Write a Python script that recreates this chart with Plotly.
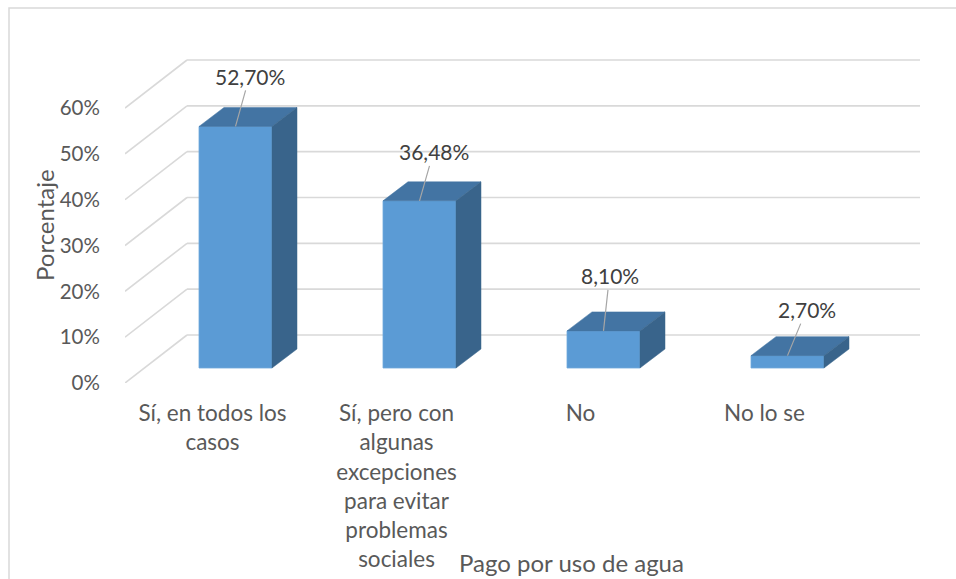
import plotly.graph_objects as go

# ---------------- data ----------------
categories = [
    "Sí, en todos los casos",
    "Sí, pero con algunas excepciones para evitar problemas sociales",
    "No",
    "No lo se",
]
tick_labels = [
    "Sí, en todos los<br>casos",
    "Sí, pero con<br>algunas<br>excepciones<br>para evitar<br>problemas<br>sociales",
    "No",
    "No lo se",
]
values = [52.70, 36.48, 8.10, 2.70]
value_labels = ["52,70%", "36,48%", "8,10%", "2,70%"]
y_ticks = [0, 10, 20, 30, 40, 50, 60]
y_tick_labels = ["0%", "10%", "20%", "30%", "40%", "50%", "60%"]

# ---------------- layout geometry (pixels) ----------------
W, H = 956, 579
L, R, T, B = 125, 925, 40, 383          # plot area
px_per_cat = 184.0
first_center = 235.5
k = (383 - 108) / 60.0                    # px per percent on the front plane

x_range = [(L - first_center) / px_per_cat, (R - first_center) / px_per_cat]
y_range = [0, (B - T) / k]
bar_lift = 15 / k                         # bars sit a bit behind the front plane
y2_range = [y_range[0] - bar_lift, y_range[1] - bar_lift]
bar_w = 73 / px_per_cat
depth_dx, depth_dy = 25 / px_per_cat, 19 / k
wall_dx, wall_dy = 62 / px_per_cat, 48 / k
wall_end = (920 - first_center) / px_per_cat
label_shift = 23 / px_per_cat
label_offsets = [(14, -50), (14, -49), (6, -55), (19, -46)]

front_col = "#5B9BD5"
top_col = "#4374A3"
side_col = "#39648B"
grid_col = "#D9D9D9"
txt_col = "#595959"
FONT = "Lato"

xs = list(range(len(categories)))

fig = go.Figure()
fig.add_trace(go.Bar(
    x=xs, y=values, yaxis="y2", width=bar_w,
    marker=dict(color=front_col, line=dict(color="#6FA8DC", width=0.8)),
    hovertext=categories, hoverinfo="text+y",
))

shapes = []
# walls: left side diagonals + back gridlines
for v in y_ticks:
    shapes.append(dict(type="line", xref="x", yref="y", layer="below",
                       x0=x_range[0], y0=v, x1=x_range[0] + wall_dx, y1=v + wall_dy,
                       line=dict(color=grid_col, width=1.6)))
    shapes.append(dict(type="line", xref="x", yref="y", layer="below",
                       x0=x_range[0] + wall_dx, y0=v + wall_dy, x1=wall_end, y1=v + wall_dy,
                       line=dict(color=grid_col, width=1.6)))

# 3D faces of the bars
for i, v in zip(xs, values):
    xl, xr = i - bar_w / 2, i + bar_w / 2
    top = (f"M {xl},{v} L {xr},{v} L {xr + depth_dx},{v + depth_dy} "
           f"L {xl + depth_dx},{v + depth_dy} Z")
    side = (f"M {xr},0 L {xr},{v} L {xr + depth_dx},{v + depth_dy} "
            f"L {xr + depth_dx},{depth_dy} Z")
    shapes.append(dict(type="path", path=top, xref="x", yref="y2", layer="above",
                       fillcolor=top_col, line=dict(color=top_col, width=0.5)))
    shapes.append(dict(type="path", path=side, xref="x", yref="y2", layer="above",
                       fillcolor=side_col, line=dict(color=side_col, width=0.5)))

# outer chart border
px2x = lambda p: (p - L) / (R - L)
px2y = lambda p: (B - p) / (B - T)
shapes.append(dict(type="rect", xref="paper", yref="paper",
                   x0=px2x(9), y0=px2y(620), x1=px2x(1000), y1=px2y(8),
                   line=dict(color="#D9D9D9", width=1.5), fillcolor="rgba(0,0,0,0)"))

annotations = []
for i, v, lab, (ax, ay) in zip(xs, values, value_labels, label_offsets):
    annotations.append(dict(
        x=i, y=v, xref="x", yref="y2", text=lab, showarrow=True,
        arrowhead=0, arrowwidth=1.2, arrowcolor="#A6A6A6", ax=ax, ay=ay,
        font=dict(family=FONT, size=21, color="#404040"),
    ))
annotations.append(dict(x=px2x(44), y=px2y(225), xref="paper", yref="paper",
                        xanchor="center", yanchor="middle",
                        text="Porcentaje", textangle=-90, showarrow=False,
                        font=dict(family=FONT, size=24, color=txt_col)))
annotations.append(dict(x=px2x(571), y=px2y(562), xref="paper", yref="paper",
                        xanchor="center", yanchor="middle",
                        text="Pago por uso de agua", showarrow=False,
                        font=dict(family=FONT, size=24, color=txt_col)))

fig.update_layout(
    width=W, height=H,
    margin=dict(l=L, r=W - R, t=T, b=H - B, autoexpand=False),
    paper_bgcolor="white", plot_bgcolor="white",
    showlegend=False,
    font=dict(family=FONT, color=txt_col),
    shapes=shapes, annotations=annotations,
    xaxis=dict(range=x_range, tickvals=[i - label_shift for i in xs], ticktext=tick_labels,
               showgrid=False, zeroline=False, showline=False,
               ticks="outside", ticklen=10, tickcolor="rgba(0,0,0,0)",
               tickfont=dict(family=FONT, size=22.5, color=txt_col), fixedrange=True),
    yaxis=dict(range=y_range, tickvals=y_ticks, ticktext=y_tick_labels,
               showgrid=False, zeroline=False, showline=False,
               ticks="outside", ticklen=20, tickcolor="rgba(0,0,0,0)",
               tickfont=dict(family=FONT, size=20.5, color=txt_col), fixedrange=True),
    yaxis2=dict(range=y2_range, overlaying="y", visible=False, fixedrange=True),
)

fig.write_html("out.html", config={"displayModeBar": False},
               post_script="document.body.style.margin='0px';document.body.style.overflow='hidden';")
